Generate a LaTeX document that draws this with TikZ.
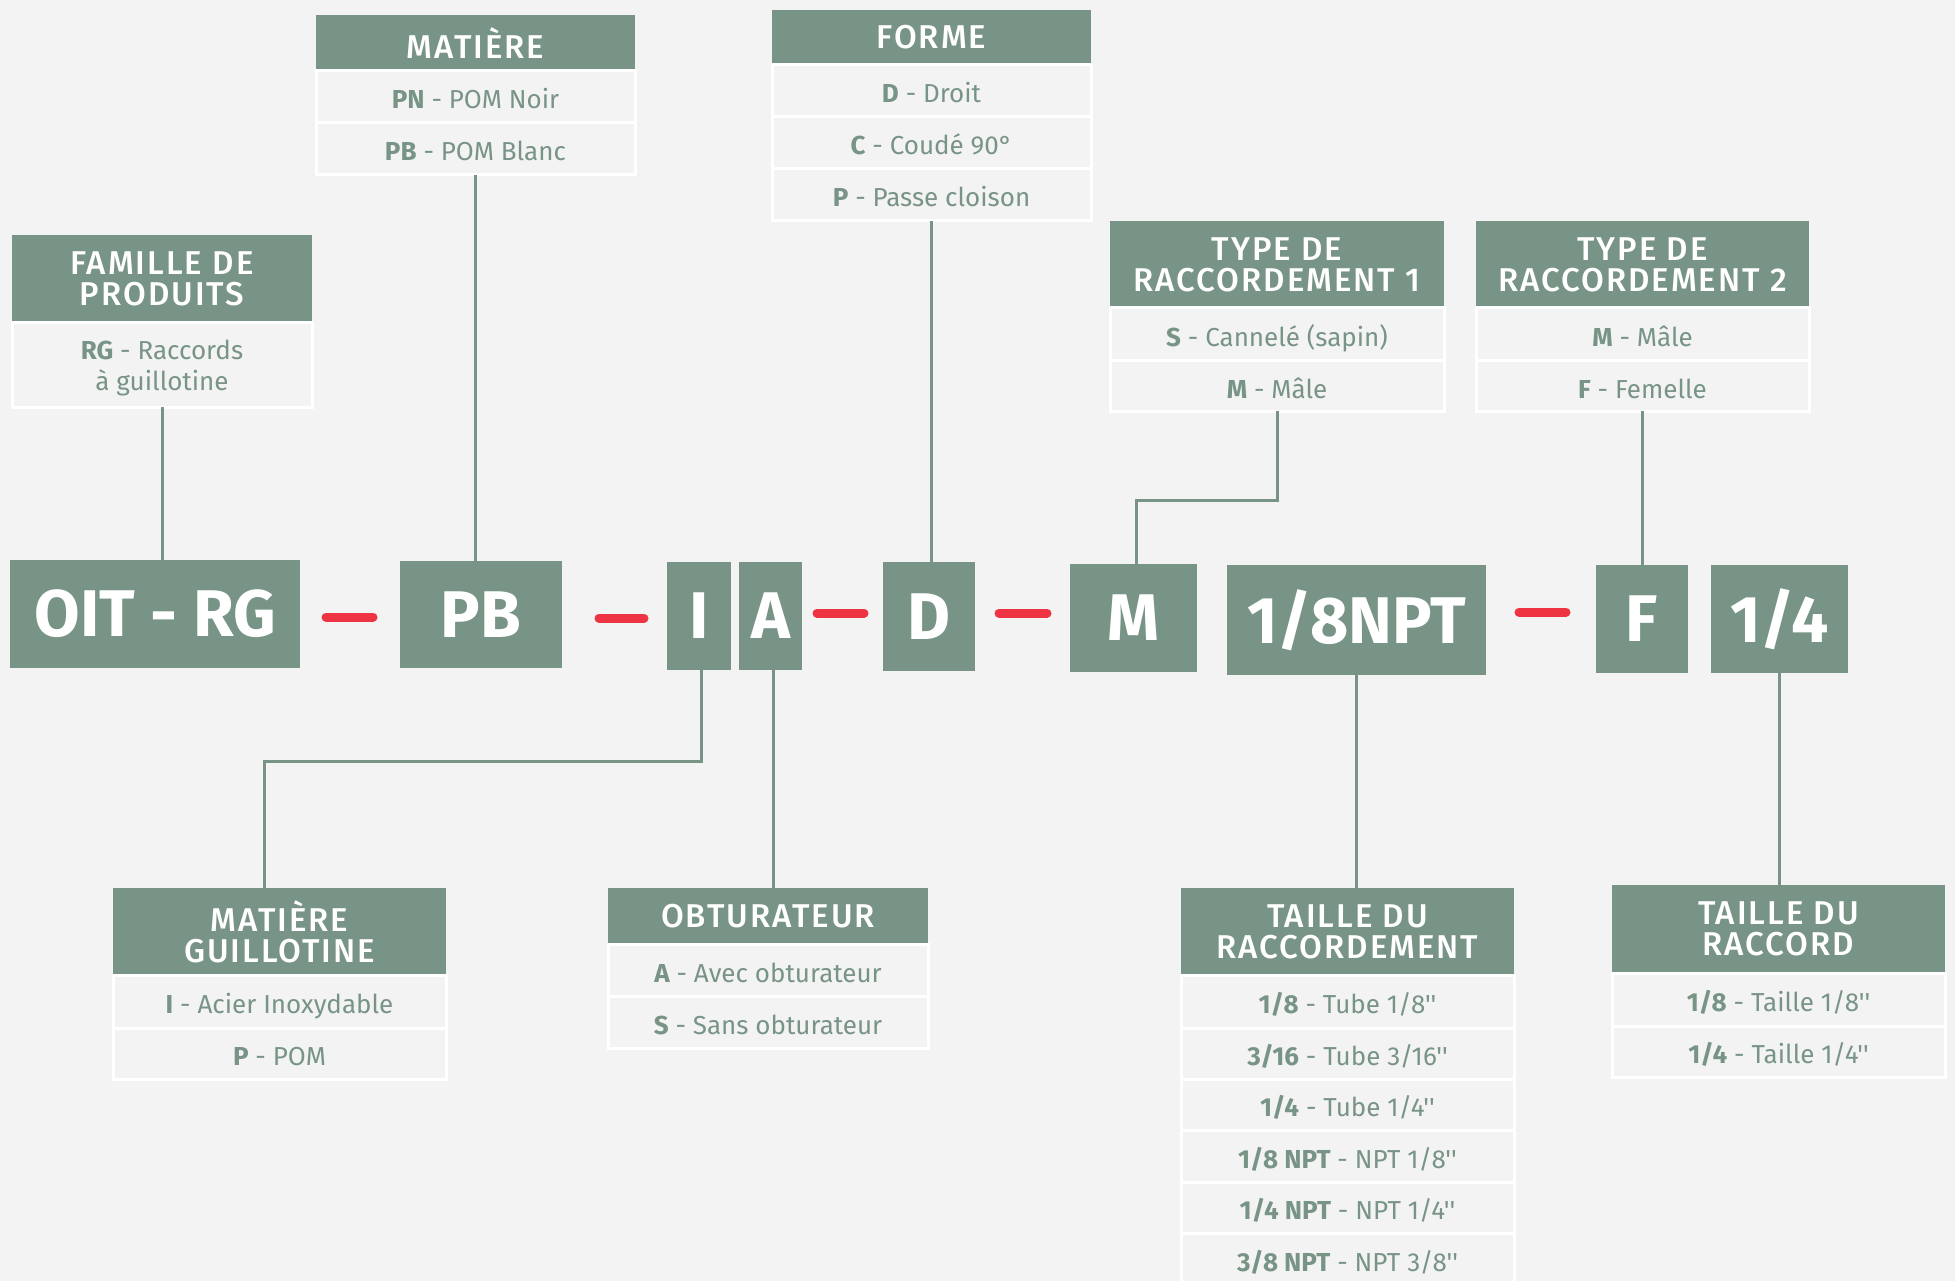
\documentclass[tikz,border=0pt]{standalone}
\usepackage{fontspec}
\setmainfont{Fira Sans}[Ligatures=TeXOff]
\newfontfamily\headfont{Fira Sans}[UprightFont=* Medium, Ligatures=TeXOff, LetterSpace=6]
\usetikzlibrary{positioning}
\definecolor{sage}{HTML}{789486}
\definecolor{paper}{HTML}{F3F3F3}
\definecolor{dashred}{HTML}{EE3442}
\tikzset{code box/.style={fill=sage, text=white, anchor=north west, inner sep=0pt, outer sep=0pt, font=\fontsize{66}{66}\selectfont\bfseries}}
\tikzset{code head/.style={fill=sage, text=white, anchor=north west, align=center, inner sep=0pt, outer sep=0pt, font=\headfont\fontsize{33}{31}\selectfont}}
\tikzset{code row/.style={fill=paper, draw=white, line width=3pt, text=sage, align=center, inner sep=0pt, outer sep=0pt, minimum width=#1, minimum height=52pt, text height=24pt, text depth=0pt, font=\fontsize{26}{31}\selectfont}}
\tikzset{code link/.style={draw=sage, line width=3pt}}
\tikzset{code dash/.style={draw=dashred, line width=9pt, line cap=round}}

\begin{document}
\begin{tikzpicture}[x=1pt,y=-1pt]
		\fill[paper] (0,0) rectangle (1955,1281);
		\useasboundingbox (0,0) rectangle (1955,1281);

		% reference code
		\node[code box, minimum width=290pt, minimum height=108pt] (oit) at (10,560) {OIT - RG};
		\node[code box, minimum width=162pt, minimum height=107pt] (pb) at (400,561) {PB};
		\node[code box, minimum width=64pt, minimum height=108pt] (gi) at (667,562) {I};
		\node[code box, minimum width=63pt, minimum height=108pt] (ob) at (739,562) {A};
		\node[code box, minimum width=92pt, minimum height=109pt] (fo) at (883,562) {D};
		\node[code box, minimum width=127pt, minimum height=108pt] (rc1) at (1070,564) {M};
		\node[code box, minimum width=259pt, minimum height=110pt] (npt) at (1227,565) {1/8NPT};
		\node[code box, minimum width=92pt, minimum height=108pt] (rc2) at (1596,565) {F};
		\node[code box, minimum width=137pt, minimum height=108pt] (size) at (1711,565) {1/4};

		\draw[code dash] (326,617) -- (373,617);
		\draw[code dash] (599,618) -- (644,618);
		\draw[code dash] (817,613) -- (864,613);
		\draw[code dash] (999,613) -- (1047,613);
		\draw[code dash] (1519,612) -- (1566,612);

		% upper tables
		\node[code head, minimum width=300pt, minimum height=88pt] (famh) at (12,235) {FAMILLE DE\\PRODUITS};
		\node[code row=300pt, minimum height=84pt, text height=, below=0pt of famh] (fam1) {{\bfseries RG} - Raccords\\à guillotine};

		\node[code head, minimum width=319pt, minimum height=56pt] (math) at (316,15) {MATIÈRE};
		\node[code row=319pt, below=0pt of math] (mat1) {{\bfseries PN} - POM Noir};
		\node[code row=319pt, below=0pt of mat1] (mat2) {{\bfseries PB} - POM Blanc};

		\node[code head, minimum width=319pt, minimum height=55pt] (forh) at (772,10) {FORME};
		\node[code row=319pt, below=0pt of forh] (for1) {{\bfseries D} - Droit};
		\node[code row=319pt, below=0pt of for1] (for2) {{\bfseries C} - Coudé 90°};
		\node[code row=319pt, below=0pt of for2] (for3) {{\bfseries P} - Passe cloison};

		\node[code head, minimum width=334pt, minimum height=87pt] (t1h) at (1110,221) {TYPE DE\\RACCORDEMENT 1};
		\node[code row=334pt, minimum height=53pt, below=0pt of t1h] (t11) {{\bfseries S} - Cannelé (sapin)};
		\node[code row=334pt, minimum height=50pt, below=0pt of t11] (t12) {{\bfseries M} - Mâle};

		\node[code head, minimum width=333pt, minimum height=87pt] (t2h) at (1476,221) {TYPE DE\\RACCORDEMENT 2};
		\node[code row=333pt, minimum height=53pt, below=0pt of t2h] (t21) {{\bfseries M} - Mâle};
		\node[code row=333pt, minimum height=50pt, below=0pt of t21] (t22) {{\bfseries F} - Femelle};

		% lower tables
		\node[code head, minimum width=333pt, minimum height=87pt] (mgh) at (113,888) {MATIÈRE\\GUILLOTINE};
		\node[code row=333pt, minimum height=53pt, below=0pt of mgh] (mg1) {{\bfseries I} - Acier Inoxydable};
		\node[code row=333pt, minimum height=51pt, below=0pt of mg1] (mg2) {{\bfseries P} - POM};

		\node[code head, minimum width=320pt, minimum height=56pt] (obh) at (608,888) {OBTURATEUR};
		\node[code row=320pt, below=0pt of obh] (ob1) {{\bfseries A} - Avec obturateur};
		\node[code row=320pt, below=0pt of ob1] (ob2) {{\bfseries S} - Sans obturateur};

		\node[code head, minimum width=333pt, minimum height=87pt] (tdrh) at (1181,888) {TAILLE DU\\RACCORDEMENT};
		\node[code row=333pt, minimum height=53pt, below=0pt of tdrh] (tdr1) {{\bfseries 1/8} - Tube 1/8''};
		\node[code row=333pt, minimum height=51pt, below=0pt of tdr1] (tdr2) {{\bfseries 3/16} - Tube 3/16''};
		\node[code row=333pt, minimum height=51pt, below=0pt of tdr2] (tdr3) {{\bfseries 1/4} - Tube 1/4''};
		\node[code row=333pt, minimum height=52pt, below=0pt of tdr3] (tdr4) {{\bfseries 1/8 NPT} - NPT 1/8''};
		\node[code row=333pt, minimum height=51pt, below=0pt of tdr4] (tdr5) {{\bfseries 1/4 NPT} - NPT 1/4''};
		\node[code row=333pt, minimum height=52pt, below=0pt of tdr5] (tdr6) {{\bfseries 3/8 NPT} - NPT 3/8''};

		\node[code head, minimum width=333pt, minimum height=88pt] (tdch) at (1612,885) {TAILLE DU\\RACCORD};
		\node[code row=333pt, minimum height=53pt, below=0pt of tdch] (tdc1) {{\bfseries 1/8} - Taille 1/8''};
		\node[code row=333pt, minimum height=51pt, below=0pt of tdc1] (tdc2) {{\bfseries 1/4} - Taille 1/4''};

		% links
		\coordinate (bend1) at (1136,500);
		\coordinate (bend2) at (264,761);
		\draw[code link] (fam1.south) -- (fam1.south |- oit.north);
		\draw[code link] (mat2.south) -- (mat2.south |- pb.north);
		\draw[code link] (for3.south) -- (for3.south |- fo.north);
		\draw[code link] (t12.south) |- (bend1) -- (bend1 |- rc1.north);
		\draw[code link] (t22.south) -- (t22.south |- rc2.north);
		\draw[code link] ([xshift=2pt]gi.south) |- (bend2) -- (bend2 |- mgh.north);
		\draw[code link] ([xshift=3pt]ob.south) -- ([xshift=3pt]ob.south |- obh.north);
		\draw[code link] (npt.south) -- (npt.south |- tdrh.north);
		\draw[code link] (size.south) -- (size.south |- tdch.north);
	\end{tikzpicture}
\end{document}
